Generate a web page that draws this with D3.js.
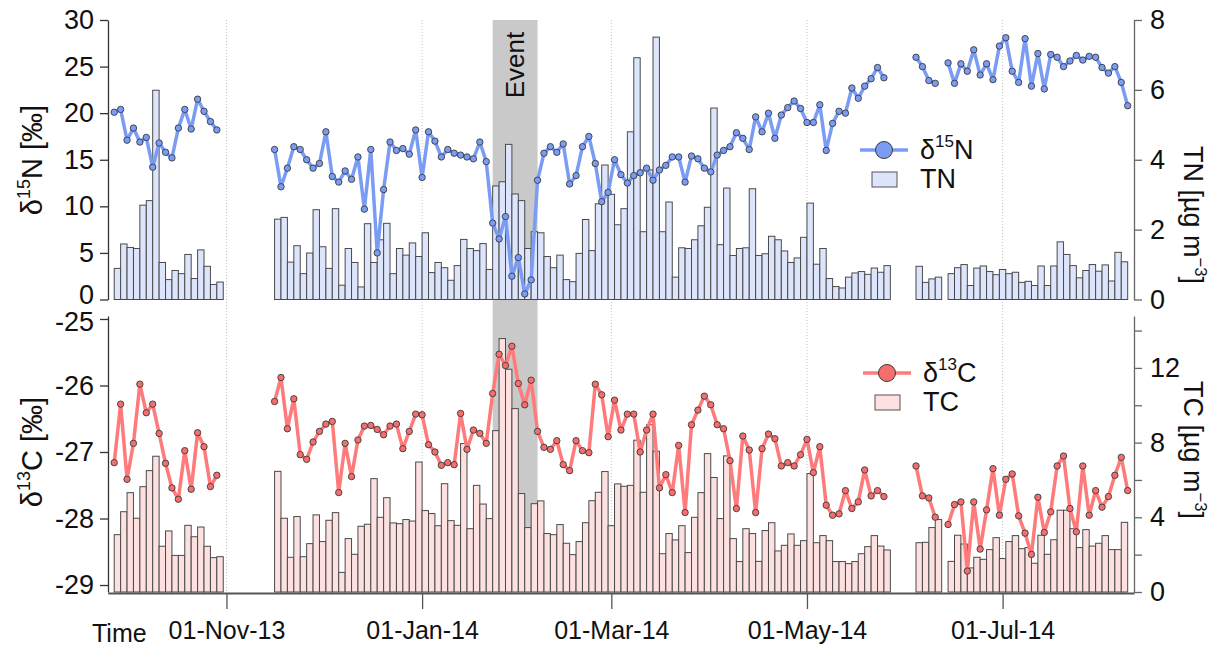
<!DOCTYPE html>
<html>
<head>
<meta charset="utf-8">
<script src="https://cdn.jsdelivr.net/npm/d3@7"></script>
<style>
  body { margin: 0; background: #fff; }
  svg { display: block; }
  text { font-family: "Liberation Sans", Arial, sans-serif; fill: #111; }
</style>
</head>
<body>
<svg id="chart" width="1219" height="648"></svg>
<script>
// Filter samples were collected every other day; each run starts on the date below.
const runStarts = ["2013-09-27", "2013-11-16", "2014-06-04", "2014-06-14"];

// δ15N of total nitrogen [‰], one array per sampling run
const d15N = [
  [20.1, 20.4, 17.1, 18.4, 16.9, 17.4, 14.2, 16.8, 15.8, 15.2, 18.4, 20.4, 18.3, 21.5, 20.2, 19.1, 18.2],
  [16.1, 12.1, 14.1, 16.4, 16.1, 15.0, 14.1, 14.6, 18.0, 13.2, 12.6, 13.8, 12.9, 15.3,
   9.7, 16.1, 5.0, 11.8, 16.9, 16.0, 16.2, 15.6, 18.2, 13.1, 18.0, 17.0, 15.3, 16.1, 15.7, 15.5, 15.3, 15.1, 16.9, 14.8,
   8.2, 6.5, 8.9, 2.5, 4.5, 0.6, 2.1, 12.8, 15.7, 16.4, 15.8, 16.7, 12.4, 13.3, 16.4, 17.5, 14.6, 10.5, 11.5, 15.0,
   13.4, 12.5, 13.3, 13.6, 14.1, 12.8, 13.9, 14.4, 15.3, 15.3, 12.6, 15.4, 15.1, 14.1, 13.7, 15.5, 16.0, 16.4, 17.9, 17.3,
   16.1, 19.6, 18.0, 20.0, 17.3, 19.8, 20.6, 21.3, 20.5, 19.0, 19.0, 20.9, 16.0, 18.9, 20.2, 20.0, 22.7, 21.6, 22.9, 23.7,
   24.9, 23.8],
  [26.0, 25.0, 23.5, 23.2],
  [25.4, 23.2, 25.3, 24.5, 26.8, 24.1, 25.3, 23.6, 27.2, 28.1, 24.5, 23.3, 28.0, 22.9, 26.4, 22.6, 26.3, 26.0, 25.0, 25.6,
   26.2, 25.7, 26.1, 26.0, 24.9, 24.3, 25.0, 23.3, 20.8]
];

// Total nitrogen [µg m-3]
const tn = [
  [0.89, 1.59, 1.49, 1.46, 2.70, 2.83, 5.99, 1.06, 0.57, 0.83, 0.74, 1.29, 0.60, 1.42, 0.95, 0.43, 0.50],
  [2.30, 2.35, 1.07, 1.54, 0.74, 1.33, 2.57, 1.51, 0.89, 2.60, 0.41, 1.46, 1.06, 0.36,
   2.17, 1.06, 1.71, 2.18, 0.74, 1.46, 1.27, 1.62, 1.23, 1.91, 0.77, 1.06, 0.91, 0.55, 0.97, 1.72, 1.46, 1.40, 1.60, 0.86,
   3.25, 3.37, 4.44, 3.02, 2.83, 1.46, 1.94, 1.91, 1.23, 0.91, 1.27, 0.57, 0.51, 1.32, 2.29, 1.40, 2.74, 3.85, 3.01, 2.14,
   2.60, 4.80, 6.92, 1.94, 3.71, 7.51, 1.94, 2.79, 0.64, 1.48, 1.46, 1.71, 2.11, 2.64, 5.48, 1.57, 3.19, 1.26, 1.46, 1.48,
   3.17, 1.26, 1.31, 1.81, 1.71, 1.39, 1.06, 1.19, 1.78, 2.76, 1.01, 1.46, 0.60, 0.37, 0.33, 0.64, 0.76, 0.80, 0.72, 0.90,
   0.78, 0.97],
  [0.95, 0.49, 0.59, 0.64],
  [0.74, 0.91, 1.00, 0.40, 0.90, 0.96, 0.80, 0.71, 0.86, 0.74, 0.78, 0.49, 0.52, 0.40, 0.96, 0.40, 0.96, 1.65, 1.29, 0.97,
   0.62, 0.83, 1.00, 0.81, 0.99, 0.53, 1.35, 1.08, null]
];

// δ13C of total carbon [‰]
const d13C = [
  [-27.16, -26.28, -27.41, -26.87, -25.98, -26.41, -26.28, -26.72, -27.17, -27.54, -27.71, -26.98, -27.56, -26.71, -26.92, -27.52, -27.35],
  [-26.24, -25.88, -26.65, -26.20, -27.04, -27.11, -26.85, -26.69, -26.58, -26.54, -27.61, -26.87, -27.37, -26.82,
   -26.61, -26.60, -26.66, -26.74, -26.61, -26.58, -26.95, -26.69, -26.43, -26.44, -26.89, -27.00, -27.20, -27.16, -27.19, -26.42, -26.96, -26.67, -26.72, -26.87,
   -26.12, -25.53, -25.70, -25.41, -25.97, -26.29, -25.92, -26.69, -26.93, -26.96, -26.83, -27.19, -27.28, -26.83, -26.98, -27.01, -25.98, -26.14, -26.77, -26.22,
   -26.67, -26.43, -26.43, -27.00, -26.67, -26.43, -27.54, -27.34, -27.61, -26.90, -27.91, -26.59, -26.37, -26.16, -26.29, -26.59, -26.65, -27.13, -27.85, -26.76,
   -26.97, -27.91, -26.95, -26.73, -26.80, -27.21, -27.16, -27.21, -27.04, -26.81, -27.31, -26.92, -27.80, -27.95, -27.93, -27.58, -27.85, -27.75, -27.27, -27.66,
   -27.58, -27.67],
  [-27.21, -27.66, -27.69, -27.98],
  [-28.09, -27.79, -27.75, -28.79, -27.75, -28.46, -27.87, -27.25, -27.95, -27.41, -27.33, -27.96, -28.22, -28.54, -27.68, -28.21, -27.90, -27.21, -27.06, -27.85,
   -28.20, -27.21, -27.95, -27.58, -27.83, -27.67, -27.35, -27.08, -27.58]
];

// Total carbon [µg m-3]
const tc = [
  [3.07, 4.30, 5.32, 3.95, 5.64, 6.50, 7.27, 2.45, 3.27, 1.96, 1.96, 3.57, 2.96, 3.48, 2.45, 1.84, 1.89],
  [6.46, 3.95, 1.86, 4.04, 1.89, 2.59, 4.13, 2.70, 3.84, 4.25, 1.05, 2.86, 2.02, 3.52,
   3.63, 6.07, 4.00, 5.05, 3.70, 3.66, 3.88, 3.80, 6.96, 4.36, 4.20, 3.55, 5.80, 3.82, 3.57, 7.95, 3.39, 5.71, 4.71, 3.93,
   8.64, 13.57, 11.93, 9.82, 5.27, 3.45, 4.73, 4.88, 3.13, 3.07, 3.61, 2.61, 2.00, 2.70, 3.71, 4.89, 5.34, 6.45, 3.55, 5.79,
   5.66, 5.71, 8.13, 5.34, 8.96, 7.54, 2.05, 3.13, 2.79, 3.55, 2.11, 4.00, 5.32, 7.41, 6.13, 3.93, 7.29, 2.86, 1.63, 3.39,
   3.13, 1.64, 3.29, 3.71, 2.20, 2.50, 3.11, 2.50, 2.75, 6.34, 2.64, 3.02, 2.75, 1.63, 1.63, 1.52, 1.63, 2.05, 2.43, 3.02,
   2.46, 2.25],
  [2.64, 2.66, 3.45, 3.88],
  [1.64, 3.04, 2.57, 1.29, 1.86, 1.75, 2.27, 2.91, 1.79, 2.70, 3.02, 2.32, 2.38, 1.54, 3.04, 2.02, 2.80, 4.38, 4.38, 3.39,
   2.38, 3.34, 2.46, 2.61, 3.02, 2.27, 2.27, 3.73, null]
];

const monthTicks = ["2013-11-01", "2014-01-01", "2014-03-01", "2014-05-01", "2014-07-01"];
const eventSpan = ["2014-01-23", "2014-02-06"];
const timeDomain = ["2013-09-25", "2014-08-11"];
const d15NTicks = [0, 5, 10, 15, 20, 25, 30];
const tnTicks = [0, 2, 4, 6, 8];
const d13CTicks = [-29, -28, -27, -26, -25];
const tcTicks = [0, 2, 4, 6, 8, 10, 12, 14];
const tcLabelled = [0, 4, 8, 12];

const parse = d3.timeParse("%Y-%m-%d");
const svg = d3.select("#chart");

const blue = "#7a9cf5", blueBar = "#dce5fb";
const red = "#ff7a7a", redDot = "#f46e6e", redBar = "#fde0e0";

const x = d3.scaleTime().domain(timeDomain.map(parse)).range([107.8, 1134.1]);
const yN = d3.scaleLinear().domain([0, 30]).range([299.5, 20]);
const yTN = d3.scaleLinear().domain([0, 8]).range([299.5, 20]);
const yC = d3.scaleLinear().domain([-29.105, -24.955]).range([592, 316]);
const yTC = d3.scaleLinear().domain([0, 14.78]).range([592, 316]);

// Sampling runs turned into rows of {date, n15, tn, c13, tc}
const runs = runStarts.map((s, r) => {
  const start = parse(s);
  return d15N[r].map((v, i) => ({
    date: d3.timeDay.offset(start, 2 * i),
    n15: v, tn: tn[r][i], c13: d13C[r][i], tc: tc[r][i]
  }));
});
const allRows = runs.flat();
const nextDay = d => d3.timeDay.offset(d, 2);

// Event period shading across both panels
svg.append("rect")
  .attr("x", x(parse(eventSpan[0])))
  .attr("width", x(parse(eventSpan[1])) - x(parse(eventSpan[0])))
  .attr("y", 20).attr("height", 572)
  .attr("fill", "#c9c9c9");

// Dotted month gridlines
svg.append("g").selectAll("line").data(monthTicks.map(parse)).join("line")
  .attr("x1", d => x(d)).attr("x2", d => x(d))
  .attr("y1", 20).attr("y2", 592)
  .attr("stroke", "#c4c4c4").attr("stroke-width", 1).attr("stroke-dasharray", "1,2");

// Bars: each filter spans its two-day sampling interval
function bars(key, yScale, fill) {
  svg.append("g").selectAll("rect")
    .data(allRows.filter(d => d[key] != null)).join("rect")
    .attr("x", d => x(d.date))
    .attr("width", d => x(nextDay(d.date)) - x(d.date))
    .attr("y", d => yScale(d[key]))
    .attr("height", d => yScale(0) - yScale(d[key]))
    .attr("fill", fill).attr("stroke", "#4a4a4a").attr("stroke-width", 1);
}
bars("tn", yTN, blueBar);
bars("tc", yTC, redBar);

// Isotope lines with markers, one path per sampling run
function series(key, yScale, lineColor, dotColor) {
  const line = d3.line().x(d => x(d.date)).y(d => yScale(d[key]));
  const g = svg.append("g");
  g.selectAll("path").data(runs).join("path")
    .attr("d", line).attr("fill", "none")
    .attr("stroke", lineColor).attr("stroke-width", 3.5)
    .attr("stroke-linejoin", "round");
  g.selectAll("circle").data(allRows).join("circle")
    .attr("cx", d => x(d.date)).attr("cy", d => yScale(d[key])).attr("r", 3.2)
    .attr("fill", dotColor).attr("stroke", "#3a3a3a").attr("stroke-width", 0.9);
}
series("n15", yN, blue, blue);
series("c13", yC, red, redDot);

// Axes
function styleAxis(g, color, size) {
  g.select(".domain").attr("stroke", color).attr("stroke-width", 1.3);
  g.selectAll(".tick line").attr("stroke", color).attr("stroke-width", 1.3);
  g.selectAll(".tick text").attr("font-size", size).attr("fill", "#111")
    .attr("font-family", '"Liberation Sans", Arial, sans-serif');
  return g;
}
const plain = d => String(d);
const leftTop = styleAxis(svg.append("g").attr("transform", "translate(108,0)")
  .call(d3.axisLeft(yN).tickValues(d15NTicks).tickSize(8).tickSizeOuter(0).tickPadding(6).tickFormat(plain)), "#333", 27);
const leftBottom = styleAxis(svg.append("g").attr("transform", "translate(108,0)")
  .call(d3.axisLeft(yC).tickValues(d13CTicks).tickSize(8).tickSizeOuter(0).tickPadding(6).tickFormat(plain)), "#333", 27);
// the two labels where the panels meet are nudged apart
leftTop.selectAll(".tick text").filter(d => d === 0).attr("y", -5);
leftBottom.selectAll(".tick text").filter(d => d === -25).attr("y", 3);
styleAxis(svg.append("g").attr("transform", "translate(1134,0)")
  .call(d3.axisRight(yTN).tickValues(tnTicks).tickSize(8).tickSizeOuter(0).tickPadding(8).tickFormat(plain)), "#666", 27);
styleAxis(svg.append("g").attr("transform", "translate(1134,0)")
  .call(d3.axisRight(yTC).tickValues(tcTicks).tickSize(8).tickSizeOuter(0).tickPadding(8)
    .tickFormat(d => tcLabelled.includes(d) ? String(d) : "")), "#666", 27);

const xAxis = svg.append("g").attr("transform", "translate(0,593)")
  .call(d3.axisBottom(x).tickValues(monthTicks.map(parse)).tickSize(16).tickSizeOuter(0)
    .tickPadding(12).tickFormat(d3.timeFormat("%d-%b-%y")));
styleAxis(xAxis, "#555", 25);
xAxis.select(".domain").attr("stroke-width", 2);

svg.append("text").attr("x", 92).attr("y", 642).attr("font-size", 25).text("Time");

// Axis titles
function title(xp, yp, rot, parts, size) {
  const t = svg.append("text")
    .attr("transform", `translate(${xp},${yp}) rotate(${rot})`)
    .attr("text-anchor", "middle").attr("font-size", size);
  parts.forEach(p => {
    const s = t.append("tspan").text(p.t);
    if (p.sup) s.attr("font-size", size * 0.62).attr("dy", -size * 0.42);
    if (p.down) s.attr("dy", size * 0.42);
  });
  return t;
}
title(42, 160, -90, [{t: "δ"}, {t: "15", sup: true}, {t: "N [‰]", down: true}], 29);
title(42, 452, -90, [{t: "δ"}, {t: "13", sup: true}, {t: "C [‰]", down: true}], 29);
title(1184, 215, 90, [{t: "TN [µg m"}, {t: "−3", sup: true}, {t: "]", down: true}], 27);
title(1184, 450, 90, [{t: "TC [µg m"}, {t: "−3", sup: true}, {t: "]", down: true}], 27);

// Event label
svg.append("text").attr("transform", `translate(${(x(parse(eventSpan[0])) + x(parse(eventSpan[1]))) / 2 + 9},65) rotate(-90)`)
  .attr("text-anchor", "middle").attr("font-size", 26).text("Event");

// Legends
function legend(lx, ly, lineColor, dotColor, barFill, iso, sup, elem, bar) {
  const g = svg.append("g");
  g.append("line").attr("x1", lx).attr("x2", lx + 48).attr("y1", ly).attr("y2", ly)
    .attr("stroke", lineColor).attr("stroke-width", 3.5);
  g.append("circle").attr("cx", lx + 24).attr("cy", ly).attr("r", 8.5)
    .attr("fill", dotColor).attr("stroke", "#3a3a3a").attr("stroke-width", 1);
  const t = g.append("text").attr("x", lx + 60).attr("y", ly + 9).attr("font-size", 27);
  t.append("tspan").text(iso);
  t.append("tspan").text(sup).attr("font-size", 17).attr("dy", -12);
  t.append("tspan").text(elem).attr("dy", 12);
  g.append("rect").attr("x", lx + 12).attr("y", ly + 22).attr("width", 25).attr("height", 15)
    .attr("fill", barFill).attr("stroke", "#555").attr("stroke-width", 1);
  g.append("text").attr("x", lx + 60).attr("y", ly + 38).attr("font-size", 27).text(bar);
}
legend(860, 150, blue, blue, blueBar, "δ", "15", "N", "TN");
legend(863, 373, red, redDot, redBar, "δ", "13", "C", "TC");
</script>
</body>
</html>
